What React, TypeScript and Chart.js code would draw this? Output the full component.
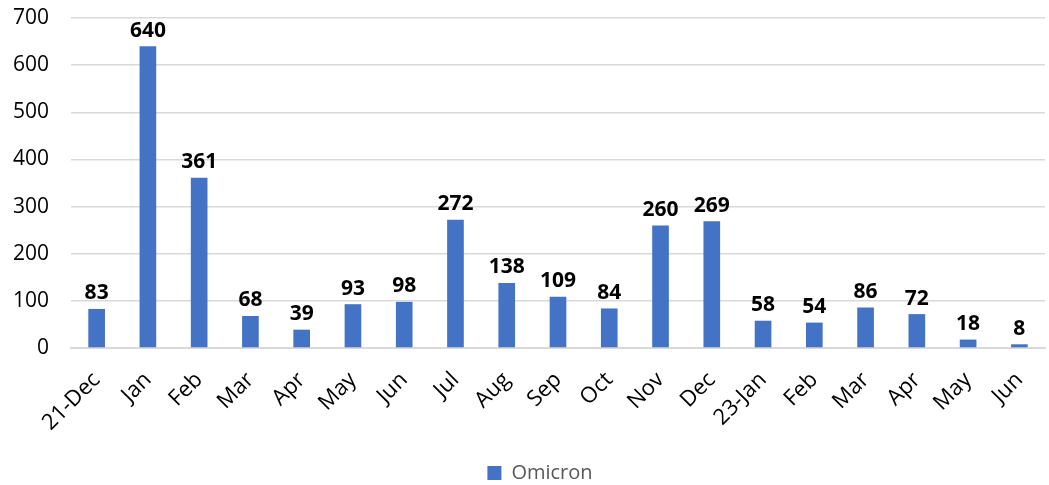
import React, { useEffect, useRef } from "react";
import { Chart, registerables } from "chart.js";

Chart.register(...registerables);

const categories = ["21-Dec", "Jan", "Feb", "Mar", "Apr", "May", "Jun", "Jul", "Aug", "Sep", "Oct", "Nov", "Dec", "23-Jan", "Feb", "Mar", "Apr", "May", "Jun"];
const omicron = [83, 640, 361, 68, 39, 93, 98, 272, 138, 109, 84, 260, 269, 58, 54, 86, 72, 18, 8];
const yTicks = [0, 100, 200, 300, 400, 500, 600, 700];

const FONT = "'Open Sans', 'Liberation Sans', sans-serif";

const labelPlugin = {
  id: "barLabels",
  afterDatasetsDraw(chart: any) {
    const ctx = chart.ctx;
    ctx.save();
    ctx.font = `bold 21px ${FONT}`;
    ctx.fillStyle = "#000000";
    ctx.textAlign = "center";
    ctx.textBaseline = "bottom";
    const meta = chart.getDatasetMeta(0);
    meta.data.forEach((bar: any, i: number) => {
      ctx.fillText(String(chart.data.datasets[0].data[i]), bar.x, bar.y - 5);
    });
    ctx.restore();
  },
};

const legendShift = {
  id: "legendShift",
  afterUpdate(chart: any) {
    if (chart.legend) {
      chart.legend.left += 11;
      chart.legend.right += 11;
      chart.legend.top += 8;
      chart.legend.bottom += 8;
    }
  },
};

export default function App() {
  const ref = useRef<HTMLCanvasElement>(null);
  useEffect(() => {
    document.body.style.margin = "0";
    const chart = new Chart(ref.current!, {
      type: "bar",
      data: {
        labels: categories,
        datasets: [
          {
            label: "Omicron",
            data: omicron,
            backgroundColor: "#4472C4",
            barPercentage: 0.65,
            categoryPercentage: 0.5,
          },
        ],
      },
      options: {
        animation: false,
        responsive: false,
        maintainAspectRatio: false,
        layout: { padding: { left: 13, right: 4, top: 18, bottom: 0 } },
        scales: {
          x: {
            grid: { display: false },
            border: { color: "#d9d9d9", width: 2 },
            afterFit: (scale: any) => {
              scale.paddingLeft = 0;
              scale.paddingRight = 0;
              scale.height += 6;
            },
            ticks: {
              color: "#000000",
              font: { family: FONT, size: 22 },
              maxRotation: 45,
              minRotation: 45,
              autoSkip: false,
              padding: 11,
            },
          },
          y: {
            min: 0,
            max: 700,
            afterBuildTicks: (axis: any) => {
              axis.ticks = yTicks.map((v) => ({ value: v }));
            },
            afterFit: (scale: any) => {
              scale.width = 58;
              scale.paddingTop = 0;
              scale.paddingBottom = 0;
            },
            grid: { color: "#d9d9d9", lineWidth: 1.5, drawTicks: false },
            border: { display: false },
            ticks: {
              color: "#000000",
              font: { family: FONT, size: 21 },
              padding: 22,
            },
          },
        },
        plugins: {
          legend: {
            position: "bottom",
            labels: {
              color: "#595959",
              font: { family: FONT, size: 20 },
              boxWidth: 14,
              boxHeight: 14,
              padding: 2,
            },
          },
          tooltip: { enabled: false },
        },
      },
      plugins: [labelPlugin, legendShift],
    });
    return () => chart.destroy();
  }, []);
  return (
    <div style={{ position: "absolute", left: 0, top: 0, width: 1049, height: 485 }}>
      <canvas ref={ref} width={1049} height={485} style={{ width: 1049, height: 485 }} />
    </div>
  );
}
